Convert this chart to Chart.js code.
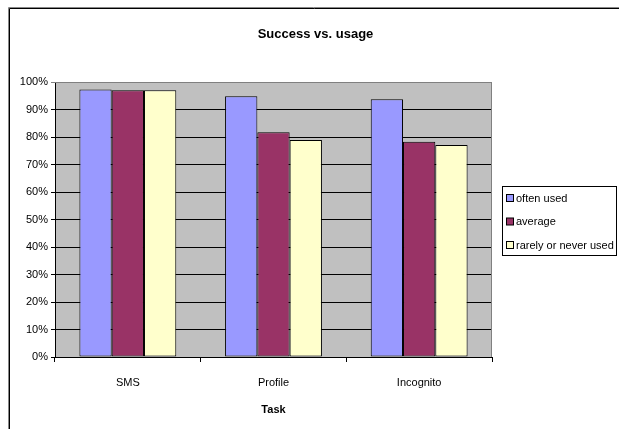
<!DOCTYPE html>
<html>
<head>
<meta charset="utf-8">
<script src="https://cdn.jsdelivr.net/npm/chart.js@4/dist/chart.umd.min.js"></script>
<style>
html,body{margin:0;padding:0;background:#fff;}
#wrap{position:absolute;left:0;top:0;width:619px;height:429px;}
</style>
</head>
<body>
<div id="wrap"><canvas id="c" width="619" height="429"></canvas></div>
<script>
const categories = ['SMS', 'Profile', 'Incognito'];
const seriesNames = ['often used', 'average', 'rarely or never used'];
const oftenUsed = [97.3, 94.8, 93.7];
const average = [97.0, 81.7, 78.3];
const rarelyUsed = [97.0, 78.9, 77.1];
const yTicks = [0, 10, 20, 30, 40, 50, 60, 70, 80, 90, 100];
const chartTitle = 'Success vs. usage';
const xTitle = 'Task';

const colors = ['#9999FF', '#993366', '#FFFFCC'];
const FONT = "'Liberation Sans', Arial, sans-serif";

const decor = {
  id: 'decor',
  beforeDraw(chart) {
    const {ctx, chartArea: a} = chart;
    ctx.save();
    ctx.fillStyle = '#fff';
    ctx.fillRect(0, 0, chart.width, chart.height);
    ctx.fillStyle = '#C0C0C0';
    ctx.fillRect(a.left, a.top, a.right - a.left, a.bottom - a.top);
    ctx.restore();
  },
  afterDraw(chart) {
    const {ctx, chartArea: a} = chart;
    ctx.save();
    // plot border (top/right)
    ctx.strokeStyle = '#808080';
    ctx.lineWidth = 1;
    ctx.beginPath();
    ctx.moveTo(a.left, a.top + 0.5);
    ctx.lineTo(a.right - 0.5, a.top + 0.5);
    ctx.lineTo(a.right - 0.5, a.bottom);
    ctx.stroke();
    // outer frame
    ctx.strokeStyle = '#888';
    ctx.beginPath();
    ctx.moveTo(8.5, chart.height); ctx.lineTo(8.5, 7.5); ctx.lineTo(chart.width, 7.5);
    ctx.stroke();
    ctx.strokeStyle = '#000';
    ctx.beginPath();
    ctx.moveTo(9.5, chart.height); ctx.lineTo(9.5, 8.5); ctx.lineTo(chart.width, 8.5);
    ctx.stroke();
    // title
    ctx.fillStyle = '#000';
    ctx.font = "bold 13px " + FONT;
    ctx.textAlign = 'center';
    ctx.textBaseline = 'middle';
    ctx.fillText(chartTitle, 315.5, 34);
    // legend
    const lx = 502, ly = 186, lw = 115, lh = 70;
    ctx.fillStyle = '#fff';
    ctx.fillRect(lx, ly, lw, lh);
    ctx.strokeStyle = '#000';
    ctx.strokeRect(lx + 0.5, ly + 0.5, lw - 1, lh - 1);
    ctx.font = "11px " + FONT;
    ctx.textAlign = 'left';
    chart.data.datasets.forEach((ds, i) => {
      const cy = ly + 12 + i * 23.5;
      ctx.fillStyle = ds.backgroundColor;
      ctx.fillRect(lx + 4.5, cy - 3.5, 7, 7);
      ctx.strokeStyle = '#000';
      ctx.strokeRect(lx + 4.5, cy - 3.5, 7, 7);
      ctx.fillStyle = '#000';
      ctx.fillText(ds.label, lx + 14, cy + 0.5);
    });
    ctx.restore();
  }
};

new Chart(document.getElementById('c'), {
  type: 'bar',
  data: {
    labels: categories,
    datasets: [
      {label: seriesNames[0], data: oftenUsed, backgroundColor: colors[0]},
      {label: seriesNames[1], data: average, backgroundColor: colors[1]},
      {label: seriesNames[2], data: rarelyUsed, backgroundColor: colors[2]}
    ].map(d => Object.assign(d, {borderColor: '#000', borderWidth: 1, borderSkipped: false,
      categoryPercentage: 0.665, barPercentage: 1}))
  },
  options: {
    responsive: false,
    animation: false,
    devicePixelRatio: 1,
    layout: {padding: {left: 0, right: 127, top: 82, bottom: 0}},
    plugins: {legend: {display: false}, title: {display: false}, tooltip: {enabled: false}},
    scales: {
      x: {
        afterFit(s) { s.height = 72; },
        grid: {display: true, drawOnChartArea: false, tickLength: 5, color: '#000', offset: true},
        border: {display: true, color: '#000'},
        ticks: {color: '#000', padding: 14, font: {family: FONT, size: 11}},
        title: {display: true, text: xTitle, color: '#000',
          font: {family: FONT, size: 11, weight: 'bold'}, padding: {top: 0, bottom: 12.5}}
      },
      y: {
        min: 0, max: 100,
        afterFit(s) { s.width = 55; },
        afterBuildTicks(s) { s.ticks = yTicks.map(v => ({value: v})); },
        grid: {color: c => c.tick && c.tick.value === 100 ? '#808080' : '#000', tickLength: 4, lineWidth: 1},
        border: {display: true, color: '#000'},
        ticks: {color: '#000', padding: 3, font: {family: FONT, size: 11},
          callback: v => v + '%'}
      }
    }
  },
  plugins: [decor]
});
</script>
</body>
</html>
